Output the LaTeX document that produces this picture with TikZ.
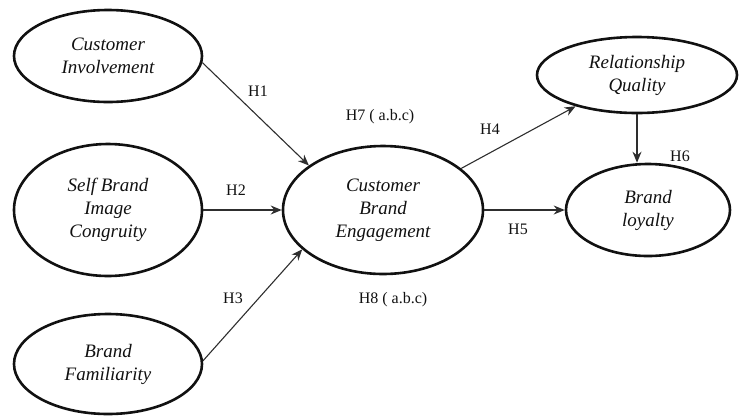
\documentclass[tikz,border=0pt]{standalone}
\usepackage{fontspec}
\setmainfont{Liberation Serif}
\usepackage{xcolor}
\usepackage{tikz}
\usetikzlibrary{shapes.geometric, arrows.meta, positioning}
\definecolor{inkdark}{HTML}{111111}
\definecolor{arrowgrey}{HTML}{2E2E2E}
\tikzset{
  construct/.style={ellipse, draw=inkdark, line width=2.6pt, inner sep=0pt, align=center,
                    font=\fontsize{19}{23}\selectfont\itshape, text=inkdark},
  hyp/.style={font=\fontsize{16}{19}\selectfont, text=inkdark},
  path/.style={-{Stealth[length=11pt, width=9pt]}, line width=1.1pt, color=arrowgrey},
}
\begin{document}
\begin{tikzpicture}[x=1pt, y=-1pt,
  outer/.style={construct, minimum width=188pt},
  inner/.style={construct, minimum width=#1}]
  \useasboundingbox (0,0) rectangle (741,416);
  \node[outer, minimum height=92pt] (ci) at (108,56) {Customer\\Involvement};
  \node[outer, minimum height=132pt] (sbic) at (108,210) {Self Brand\\Image\\Congruity};
  \node[outer, minimum height=100pt] (bf) at (108,364) {Brand\\Familiarity};
  \node[inner=200pt, minimum height=128pt] (cbe) at (383,210) {Customer\\Brand\\Engagement};
  \node[inner=200pt, minimum height=76pt] (rq) at (637,75) {Relationship\\Quality};
  \node[inner=164pt, minimum height=92pt] (bl) at (648,210) {Brand\\loyalty};
  \draw[path] (ci.-4) -- (cbe.149);
  \draw[path] (sbic.east) -- (cbe.west);
  \draw[path] (bf.2) -- (cbe.-154);
  \draw[path] (cbe.28) -- (rq.-153);
  \draw[path] (cbe.east) -- (bl.west);
  \draw[path] (rq.south) -- (rq.south |- bl.north);
  \node[hyp] (h1) at (258,91) {H1};
  \node[hyp] (h2) at (236,190) {H2};
  \node[hyp] (h3) at (233,298) {H3};
  \node[hyp] (h4) at (490,129) {H4};
  \node[hyp] (h5) at (518,229) {H5};
  \node[hyp] (h6) at (680,156) {H6};
  \node[hyp] (h7) at (380,117) {H7 ( a.b.c)};
  \node[hyp] (h8) at (393,300) {H8 ( a.b.c)};
\end{tikzpicture}
\end{document}
